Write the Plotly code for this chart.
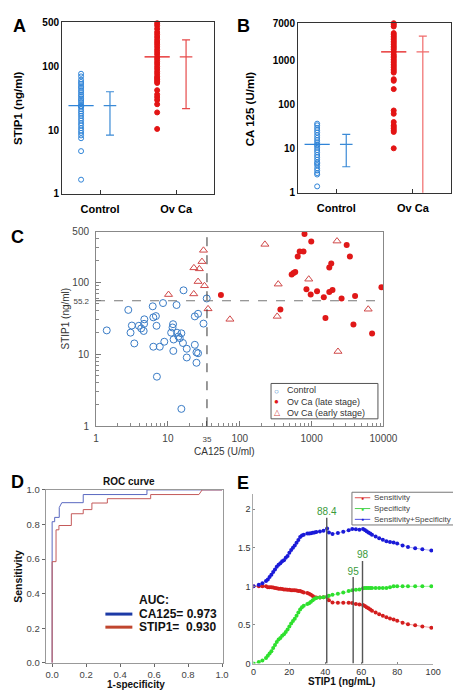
import math
import plotly.graph_objects as go

W, H = 461, 690
FONT = "Liberation Sans, Arial, sans-serif"

# ---------------- data ----------------
categories = ["Control", "Ov Ca"]
# Panel A: STIP1 (ng/ml)
a_control = [77.6, 70.5, 62.6, 57.6, 53.6, 49.3, 46.5, 42.8, 39.8, 36.7, 34.5, 31.8, 30.0, 27.9,
             25.7, 23.9, 23.9, 23.9, 21.5, 19.8, 18.4, 16.9, 15.4, 14.2, 12.9, 11.9, 10.8, 9.9,
             9.1, 8.3, 7.5, 4.7, 1.67]
a_ovca = [484, 445, 395, 351, 323, 294, 267, 245, 226, 206, 187, 172, 158, 142, 131, 120, 111,
          101, 92.7, 84.3, 77.6, 70.5, 66.4, 62.6, 59.0, 55.6, 42.8, 36.7, 33.3, 30.0, 25.7,
          19.1, 10.5]
a_mean = [24.4, 143]
a_sd = [16.0, 121]
# Panel B: CA 125 (U/ml)
b_control = [36.9, 33.9, 29.5, 26.2, 23.2, 20.2, 17.6, 15.6, 13.9, 12.5, 11.7, 10.5, 9.3, 8.3,
             7.2, 6.4, 5.6, 4.9, 4.6, 4.2, 3.6, 3.2, 2.8, 2.6, 1.4]
b_ovca = [6970, 6400, 5870, 4160, 3820, 3510, 3220, 2950, 2710, 2490, 2280, 2090, 1920, 1760,
          1560, 1360, 1250, 1150, 1050, 966, 887, 813, 747, 685, 629, 577, 530, 376, 345, 224,
          73.4, 61.8, 40.2, 33.9, 31.1, 28.5, 26.2, 24.0, 10.2]
b_mean = [12.5, 1560]
b_sd = [8.6, 2000]
a_ticks = [1, 10, 100, 500]
b_ticks = [1, 10, 100, 1000, 7000]

# Panel C: CA125 vs STIP1
c_ctrl_ca125 = [1.41, 2.81, 3.02, 3.15, 3.41, 3.94, 4.25, 4.70, 4.66, 4.6, 6.15, 6.27, 6.81, 6.95,
                6.27, 7.03, 7.71, 8.55, 8.91, 11.1, 11.8, 11.6, 12.0, 11.9, 13.2, 13.4, 14.0, 14.6,
                15.4, 16.5, 16.2, 18.3, 18.3, 15.4, 23.7, 26.3, 23.7, 25.0, 26.3, 25.0, 31.3, 34.7]
c_ctrl_stip1 = [21.4, 41.2, 19.9, 25.0, 14.1, 24.8, 22.8, 30.5, 26.4, 21.0, 46.2, 32.5, 33.8, 24.8,
                12.7, 4.87, 12.7, 51.3, 14.9, 19.9, 26.1, 23.5, 16.0, 11.1, 48.2, 19.9, 17.6, 16.7,
                19.5, 77.1, 14.3, 11.9, 9.0, 1.74, 33.5, 36.4, 13.5, 10.6, 10.3, 7.6, 26.6, 59.4]
c_late_ca125 = [54.7, 797, 989, 683, 772, 641, 528, 561, 592, 368, 848, 971, 1191, 1479, 1560,
                1763, 1877, 1763, 1954, 2612, 3078, 3413, 3822, 4030, 6950, 9376]
c_late_stip1 = [66.6, 467, 368, 266, 266, 228, 128, 134, 138, 41.7, 79.5, 67.3, 74.7, 61.9, 31.8,
                160, 181, 73.1, 77.9, 59.4, 328, 228, 25.8, 64.5, 19.3, 84.7]
c_early_ca125 = [10.2, 22.9, 23.0, 27.4, 29.8, 31.3, 26.3, 32.3, 36.2, 224, 73, 343, 332, 913,
                 2259, 6134, 2330]
c_early_stip1 = [67.3, 68.7, 158, 153, 193, 277, 102, 89.1, 42.6, 335, 30.5, 93.9, 33.5, 110,
                 372, 42.1, 10.9]
ca125_cutoff = 35
stip1_cutoff = 55.2
c_legend = ["Control", "Ov Ca (late stage)", "Ov Ca (early stage)"]

# Panel D: ROC
ca125_fpr = [0, 0, 0.015, 0.015, 0.042, 0.042, 0.057, 0.183, 0.183, 0.558, 0.558, 1.0]
ca125_tpr = [0, 0.816, 0.816, 0.841, 0.841, 0.898, 0.926, 0.926, 0.973, 0.973, 1.0, 1.0]
stip1_fpr = [0, 0, 0.023, 0.023, 0.04, 0.04, 0.113, 0.113, 0.183, 0.183, 0.234, 0.234, 0.325,
             0.325, 0.580, 0.580, 0.864, 0.883, 1.0]
stip1_tpr = [0, 0.585, 0.585, 0.769, 0.769, 0.794, 0.794, 0.862, 0.862, 0.886, 0.886, 0.924,
             0.924, 0.949, 0.949, 0.973, 0.973, 1.0, 1.0]
auc_labels = ["CA125= 0.973", "STIP1=\u00a0 0.930"]

# Panel E: threshold curves
thr = [0, 3, 5, 7, 8, 9, 10, 11, 12, 13, 14, 15, 16, 17, 18, 19, 20, 21, 22, 23, 24, 25, 26, 27,
       28, 30, 31, 32, 33, 34, 35, 37, 39, 41, 42, 44, 47, 50, 53, 55, 57, 59, 61, 62, 63, 64, 65,
       66, 68, 70, 72, 74, 76, 78, 80, 83, 86, 90, 94, 99]
sens = [1.0, 1.0, 1.0, 1.0, 0.99, 0.99, 0.99, 0.985, 0.98, 0.975, 0.97, 0.97, 0.965, 0.96, 0.96,
        0.955, 0.955, 0.95, 0.95, 0.95, 0.945, 0.94, 0.94, 0.93, 0.92, 0.915, 0.905, 0.89, 0.875,
        0.86, 0.855, 0.855, 0.86, 0.86, 0.82, 0.79, 0.787, 0.787, 0.787, 0.785, 0.77, 0.765, 0.76,
        0.745, 0.73, 0.715, 0.70, 0.685, 0.66, 0.64, 0.62, 0.60, 0.585, 0.57, 0.555, 0.53, 0.51,
        0.495, 0.48, 0.465]
spec = [0, 0.02, 0.04, 0.07, 0.1, 0.13, 0.16, 0.2, 0.24, 0.28, 0.31, 0.33, 0.36, 0.38, 0.41, 0.44,
        0.48, 0.52, 0.55, 0.58, 0.62, 0.66, 0.7, 0.73, 0.75, 0.77, 0.78, 0.8, 0.82, 0.84, 0.85,
        0.855, 0.86, 0.87, 0.88, 0.89, 0.905, 0.92, 0.94, 0.95, 0.955, 0.96, 0.975, 0.98, 0.98,
        0.98, 0.98, 0.98, 0.98, 0.98, 0.98, 0.98, 0.99, 1.0, 1.0, 1.0, 1.0, 1.0, 1.0, 1.0]
sens_spec = [1.0, 1.02, 1.04, 1.07, 1.09, 1.12, 1.15, 1.185, 1.22, 1.255, 1.28, 1.3, 1.325, 1.34,
             1.37, 1.395, 1.435, 1.47, 1.5, 1.53, 1.565, 1.6, 1.64, 1.66, 1.67, 1.685, 1.685, 1.69,
             1.695, 1.7, 1.705, 1.71, 1.72, 1.75, 1.70, 1.68, 1.692, 1.707, 1.727, 1.745, 1.74,
             1.735, 1.745, 1.73, 1.715, 1.70, 1.685, 1.67, 1.645, 1.625, 1.605, 1.585, 1.575, 1.57,
             1.555, 1.53, 1.51, 1.495, 1.48, 1.465]
e_series = ["Sensitivity", "Specificity", "Sensitivity+Specificity"]
cut_x = [40.8, 55.5, 60.7]
cut_top = [1.89, 1.12, 1.33]
cut_label = ["88.4", "95", "98"]

# ---------------- helpers ----------------
def px(x):
    return x / W

def py(y):
    return 1 - y / H

BLUE = "#2f84d8"
RED = "#e31414"
BLUE_ERR = "#3b8ad6"
RED_ERR = "#e64a4a"

fig = go.Figure()

def dot_panel(xa, ya, ctrl, ovca, means, sds, red_err):
    groups = [(ctrl, BLUE, "circle-open", BLUE_ERR), (ovca, RED, "circle", red_err)]
    for i, (vals, col, sym, ecol) in enumerate(groups):
        fig.add_trace(go.Scatter(
            x=[i + 0.25] * len(vals), y=vals, mode="markers", xaxis=xa, yaxis=ya,
            marker=dict(symbol=sym, size=5, color=col, line=dict(color=col, width=1)),
            showlegend=False, cliponaxis=False))
        fig.add_trace(go.Scatter(
            x=[i + 0.25], y=[means[i]], mode="markers", xaxis=xa, yaxis=ya,
            marker=dict(symbol="line-ew", size=18, line=dict(color=col, width=1.3)),
            showlegend=False))
        fig.add_trace(go.Scatter(
            x=[i + 0.63], y=[means[i]], mode="markers", xaxis=xa, yaxis=ya,
            marker=dict(symbol="line-ew", size=9, line=dict(color=ecol, width=1.2)),
            error_y=dict(type="data", array=[sds[i]], symmetric=True, color=ecol,
                         thickness=1.2, width=4),
            showlegend=False))

dot_panel("x", "y", a_control, a_ovca, a_mean, a_sd, RED_ERR)
dot_panel("x2", "y2", b_control, b_ovca, b_mean, b_sd, "#f06a6a")

# Panel C
fig.add_trace(go.Scatter(x=c_ctrl_ca125, y=c_ctrl_stip1, mode="markers", xaxis="x3", yaxis="y3",
                         marker=dict(symbol="circle-open", size=7, color="#3a7cc6",
                                     line=dict(width=1)), showlegend=False))
fig.add_trace(go.Scatter(x=c_late_ca125, y=c_late_stip1, mode="markers", xaxis="x3", yaxis="y3",
                         marker=dict(symbol="circle", size=6, color="#e01818"), showlegend=False))
fig.add_trace(go.Scatter(x=c_early_ca125, y=c_early_stip1, mode="markers", xaxis="x3", yaxis="y3",
                         marker=dict(symbol="triangle-up-open", size=7, color="#d04848",
                                     line=dict(width=1)), showlegend=False))

# Panel D
fig.add_trace(go.Scatter(x=ca125_fpr, y=ca125_tpr, mode="lines", xaxis="x4", yaxis="y4",
                         line=dict(color="#5a68c0", width=1), showlegend=False))
fig.add_trace(go.Scatter(x=stip1_fpr, y=stip1_tpr, mode="lines", xaxis="x4", yaxis="y4",
                         line=dict(color="#c45a5a", width=1), showlegend=False))

# Panel E
e_cols = [("#d41e1e", "rgba(220,60,60,0.6)"), ("#2ee02e", "rgba(60,220,60,0.6)"),
          ("#1a1ad8", "rgba(70,70,220,0.55)")]
for vals, (mc, lc) in zip([sens, spec, sens_spec], e_cols):
    fig.add_trace(go.Scatter(x=thr, y=vals, mode="lines+markers", xaxis="x5", yaxis="y5",
                             line=dict(color=lc, width=0.8),
                             marker=dict(size=4, color=mc), showlegend=False))
for cx, ct, cl in zip(cut_x, cut_top, cut_label):
    fig.add_trace(go.Scatter(x=[cx, cx], y=[0, ct], mode="lines", xaxis="x5", yaxis="y5",
                             line=dict(color="#555555", width=1.4), showlegend=False))
    fig.add_trace(go.Scatter(x=[cx], y=[ct], mode="text", text=[cl], textposition="top center",
                             textfont=dict(color="#3a9a3a", size=10, family=FONT),
                             xaxis="x5", yaxis="y5", showlegend=False, cliponaxis=False))

# ---------------- axes ----------------
bold10 = dict(family=FONT, size=10, color="#000", weight="bold")
bold11 = dict(family=FONT, size=11, color="#000", weight="bold")
reg10 = dict(family=FONT, size=10, color="#444")

def cat_x(dom):
    return dict(domain=dom, range=[0, 2], tickvals=[0.5, 1.5], ticktext=categories,
                ticks="inside", ticklen=4, tickcolor="#333", showline=True, mirror=True,
                linecolor="#333", linewidth=1, showgrid=False, zeroline=False, tickfont=bold11,
                ticklabelstandoff=5, fixedrange=True)

def log_y(dom, top, ticks, anchor):
    return dict(domain=dom, type="log", range=[0, math.log10(top)], tickvals=ticks,
                ticktext=[str(t) for t in ticks], ticks="", showline=True, mirror=True,
                linecolor="#333", linewidth=1, showgrid=False, zeroline=False, tickfont=bold10,
                anchor=anchor)

minor_vals = [m * 10 ** d for d in range(0, 4) for m in range(2, 10)]

small = lambda s: "<span style='font-size:8px'>%s</span>" % s
c_xt = [1, 10, ca125_cutoff, 100, 1000, 10000]
c_yt = [1, 10, stip1_cutoff, 100, 500]

fig.update_layout(
    width=W, height=H, margin=dict(l=0, r=0, t=0, b=0), autosize=False,
    paper_bgcolor="white", plot_bgcolor="white", showlegend=False,
    font=dict(family=FONT, size=10, color="#333"),
    xaxis=dict(cat_x([px(53), px(211)]), anchor="y"),
    yaxis=log_y([py(183), py(8.5)], 500, a_ticks, "x"),
    xaxis2=dict(cat_x([px(298), px(457)]), anchor="y2"),
    yaxis2=log_y([py(182), py(9.3)], 7000, b_ticks, "x2"),
    xaxis3=dict(domain=[px(88.3), px(386.7)], anchor="y3", type="log", range=[0, 4],
                tickvals=c_xt,
                ticktext=[small(v) if v == ca125_cutoff else str(v) for v in c_xt],
                ticks="inside", ticklen=5, tickcolor="#777", showline=True, mirror=True,
                linecolor="#888", showgrid=False, zeroline=False, tickfont=reg10,
                ticklabelstandoff=3,
                minor=dict(tickvals=minor_vals, ticks="inside", ticklen=3, tickcolor="#888",
                           showgrid=False)),
    yaxis3=dict(domain=[py(419.5), py(221.7)], anchor="x3", type="log",
                range=[0, math.log10(500)], tickvals=c_yt,
                ticktext=[small(v) if v == stip1_cutoff else str(v) for v in c_yt],
                ticks="inside", ticklen=5, tickcolor="#777", showline=True, mirror=True,
                linecolor="#888", showgrid=False, zeroline=False, tickfont=reg10,
                ticklabelstandoff=4,
                minor=dict(tickvals=minor_vals, ticks="inside", ticklen=3, tickcolor="#888",
                           showgrid=False)),
    xaxis4=dict(domain=[px(36), px(220)], anchor="y4", range=[-0.038, 1.005],
                tickvals=[0, 0.2, 0.4, 0.6, 0.8, 1.0],
                ticktext=["0.0", "0.2", "0.4", "0.6", "0.8", "1.0"], ticks="outside", ticklen=3,
                tickcolor="#666", showline=True, mirror=True, linecolor="#999", showgrid=False,
                zeroline=False, tickfont=dict(family=FONT, size=9.5, color="#444")),
    yaxis4=dict(domain=[py(660.3), py(484.3)], anchor="x4", range=[0, 1],
                tickvals=[0, 0.2, 0.4, 0.6, 0.8, 1.0],
                ticktext=["0.0", "0.2", "0.4", "0.6", "0.8", "1.0"], ticks="outside", ticklen=3,
                tickcolor="#666", showline=True, mirror=True, linecolor="#999", showgrid=False,
                zeroline=False, tickfont=dict(family=FONT, size=9.5, color="#444")),
    xaxis5=dict(domain=[px(251.7), px(438.3)], anchor="y5", range=[0, 100], dtick=20,
                ticks="inside", ticklen=2, tickcolor="#888", showline=True, linecolor="#aaa",
                showgrid=False, zeroline=False, tickfont=dict(family=FONT, size=9, color="#333")),
    yaxis5=dict(domain=[py(661), py(488.3)], anchor="x5", range=[0, 2.2],
                tickvals=[0, 0.5, 1, 1.5, 2], ticktext=["0", "0.5", "1", "1.5", "2"],
                ticks="inside", ticklen=2, tickcolor="#888", showline=True, linecolor="#aaa",
                showgrid=False, zeroline=False, tickfont=dict(family=FONT, size=9, color="#333")),
)

# ---------------- shapes ----------------
shapes = [
    dict(type="line", xref="x3", yref="y3 domain", x0=ca125_cutoff, x1=ca125_cutoff, y0=0, y1=1,
         line=dict(color="#333", width=1, dash="dash")),
    dict(type="line", xref="x3 domain", yref="y3", x0=0, x1=1, y0=stip1_cutoff, y1=stip1_cutoff,
         line=dict(color="#777", width=1.2, dash="dash")),
    # legend box C
    dict(type="rect", xref="paper", yref="paper", x0=px(270), x1=px(381), y0=py(412), y1=py(376),
         line=dict(color="#555", width=1), fillcolor="white"),
    # legend box E
    dict(type="rect", xref="paper", yref="paper", x0=px(354), x1=px(459.5), y0=py(520),
         y1=py(486.7), line=dict(color="#777", width=1), fillcolor="white"),
    # AUC legend lines
    dict(type="line", xref="paper", yref="paper", x0=px(98), x1=px(126), y0=py(610.7),
         y1=py(610.7), line=dict(color="#1c3aa6", width=3)),
    dict(type="line", xref="paper", yref="paper", x0=px(98), x1=px(126), y0=py(624),
         y1=py(624), line=dict(color="#c0462e", width=3)),
]
e_line_cols = ["#e05050", "#50d050", "#5050e0"]
for i, col in enumerate(e_line_cols):
    yy = 492.3 + 11 * i
    shapes.append(dict(type="line", xref="paper", yref="paper", x0=px(357), x1=px(373),
                       y0=py(yy), y1=py(yy), line=dict(color=col, width=1)))
fig.update_layout(shapes=shapes)

# ---------------- annotations ----------------
ann = []

def text(x, y, s, size=10, color="#333", bold=False, xanchor="center", angle=0, yanchor="middle"):
    ann.append(dict(x=px(x), y=py(y), xref="paper", yref="paper", text=s, showarrow=False,
                    xanchor=xanchor, yanchor=yanchor, textangle=angle, align="left",
                    borderpad=0,
                    font=dict(family=FONT, size=size, color=color,
                              weight="bold" if bold else "normal")))

# panel letters
text(8.5, 12, "A", 18, "#000", True)
text(241.5, 12, "B", 18, "#000", True)
text(7, 227, "C", 18, "#000", True)
text(6.5, 476, "D", 18, "#000", True)
text(241, 477, "E", 18, "#000", True)
# axis titles
text(8, 96, "STIP1 (ng/ml)", 11.5, "#000", True, angle=-90)
text(248, 96, "CA 125 (U/ml)", 11.5, "#000", True, angle=-90)
text(57, 310, "STIP1 (ng/ml)", 10, "#333", angle=-90)
text(222, 445, "CA125 (U/ml)", 10, "#333")
text(123, 475.7, "ROC curve", 10, "#111", True)
text(7, 572, "Sensitivity", 10.5, "#111", True, angle=-90)
text(130, 682, "1-specificity", 10, "#111", True)
text(343, 679, "STIP1 (ng/mL)", 10, "#111", True)
# legend C (one block, three lines)
c_syms = [("\u25cb", "#3a7cc6"), ("\u25cf", "#e01818"), ("\u25b3", "#d04848")]
sym_block = "<br>".join("<span style='color:%s'>%s</span>" % (col, s) for s, col in c_syms)
text(277, 394.5, sym_block, 8, "#333")
text(286, 394.5, "<br>".join(c_legend), 9, "#333", xanchor="left")
# legend E
for i, (lab, (mc, lc)) in enumerate(zip(e_series, e_cols)):
    yy = 492.3 + 11 * i
    text(365, yy, "\u25cf", 5, mc)
    text(376, yy, lab, 8, "#444", xanchor="left")
# AUC legend
text(131.7, 596.7, "AUC:", 12, "#111", True, xanchor="left")
text(131.7, 610.7, auc_labels[0], 12, "#111", True, xanchor="left")
text(131.7, 624, auc_labels[1], 12, "#111", True, xanchor="left")
fig.update_layout(annotations=ann)

fig.write_html("out.html")
